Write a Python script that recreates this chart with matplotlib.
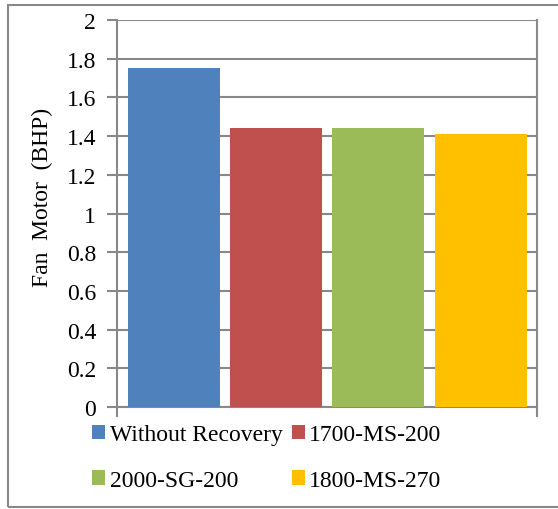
import matplotlib
matplotlib.use("Agg")
import matplotlib.pyplot as plt
from matplotlib.patches import Rectangle

plt.rcParams['font.family'] = ['Liberation Serif', 'DejaVu Serif']

series = ['Without Recovery', '1700-MS-200', '2000-SG-200', '1800-MS-270']
values = [1.75, 1.44, 1.44, 1.41]
colors = ['#4F81BD', '#C0504D', '#9BBB59', '#FFC000']
yticks = [0, 0.2, 0.4, 0.6, 0.8, 1, 1.2, 1.4, 1.6, 1.8, 2]
ytick_labels = ['0', '0.2', '0.4', '0.6', '0.8', '1', '1.2', '1.4', '1.6', '1.8', '2']

grid_col = '#888888'
fs = 17

fig = plt.figure(figsize=(5.58, 5.10), dpi=100)
ax = fig.add_axes([117/558, 1 - 408/510, 420/558, 387/510])

bars = []
for i, (name, v, c) in enumerate(zip(series, values, colors)):
    bars.append(ax.bar(i, v, width=0.9, color=c, label=name, zorder=3))

ax.set_ylim(0, 2)
ax.set_xlim(-0.555, 3.55)
ax.set_yticks(yticks)
ax.set_yticklabels(ytick_labels, fontsize=fs)
ax.set_xticks([-0.555, 3.55])
ax.set_xticklabels([])
ax.yaxis.grid(True, color=grid_col, linewidth=1.5, zorder=0)
ax.tick_params(axis='y', length=7, width=1.5, color=grid_col, pad=8)
ax.tick_params(axis='x', length=7, width=1.5, color=grid_col)
for side in ['left', 'bottom', 'right']:
    ax.spines[side].set_color(grid_col)
    ax.spines[side].set_linewidth(1.5)
ax.spines['top'].set_visible(False)

ax.set_ylabel('Fan  Motor  (BHP)', fontsize=fs)
ax.yaxis.set_label_coords(-0.152, 0.545)

# legend filled row by row
order = [0, 2, 1, 3]
fig.legend([bars[k] for k in order], [series[k] for k in order],
           loc='upper left', bbox_to_anchor=(92/558, 1 - 425/510), ncol=2,
           frameon=False, fontsize=fs, handlelength=0.55, handleheight=0.55,
           handletextpad=0.2, columnspacing=0.38, labelspacing=1.05,
           borderaxespad=0, borderpad=0)

# outer frame around the chart
fig.patches.append(Rectangle((8/558, 2/510), 1.2, 502/510, transform=fig.transFigure,
                             fill=False, edgecolor=grid_col, linewidth=1.5))

fig.savefig('out.png', dpi=100)
